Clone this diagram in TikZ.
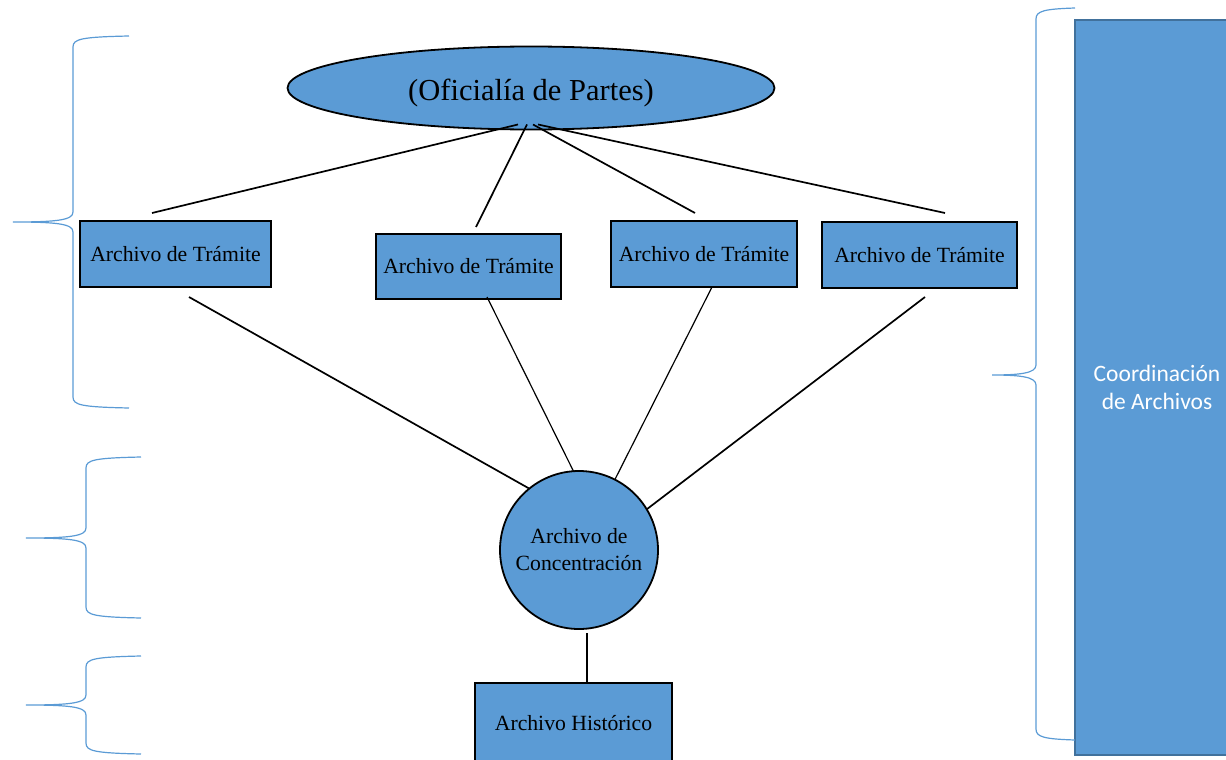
\documentclass[tikz,border=0pt]{standalone}
\usepackage{fontspec}
\setmainfont{Liberation Serif}
\newfontfamily\calibri{Carlito}
\usetikzlibrary{shapes.geometric}
\definecolor{azul}{HTML}{5B9BD5}
\definecolor{azulborde}{HTML}{41719C}

\begin{document}
\begin{tikzpicture}[x=1pt,y=-1pt,
  caja/.style={draw=black,line width=1.8pt,fill=azul,minimum height=65pt,
    inner sep=0pt,outer sep=0pt,font=\fontsize{21.7}{27}\selectfont},
  linea/.style={line width=1.7pt},
  fina/.style={line width=1.2pt},
  llave/.style={draw=azul,line width=1.2pt}]
  \useasboundingbox (0,0) rectangle (1226,760);
  \clip (0,0) rectangle (1226,760);

  % nodos
  \node[ellipse,draw,line width=1.8pt,fill=azul,minimum width=487pt,minimum height=83pt,
    inner sep=0pt,outer sep=0pt,font=\fontsize{30.5}{36}\selectfont] (op) at (531,88) {\raisebox{-5pt}[\height][\depth]{(Oficialía de Partes)}};
  \node[caja,minimum width=191pt,minimum height=66pt] (t1) at (175.5,254) {Archivo de Trámite};
  \node[caja,minimum width=185pt] (t2) at (468.5,266.5) {Archivo de Trámite};
  \node[caja,minimum width=186pt,minimum height=66pt] (t3) at (704,254) {Archivo de Trámite};
  \node[caja,minimum width=195pt,minimum height=66pt] (t4) at (919.5,255) {Archivo de Trámite};
  \node[caja,circle,minimum size=158pt,align=center] (conc) at (579,550) {Archivo de\\Concentración};
  \node[caja,minimum width=197pt,minimum height=81pt] (hist) at (573.5,723.5) {Archivo Histórico};
  \node[draw=azulborde,line width=1.5pt,fill=azul,minimum width=164pt,minimum height=735pt,
    text=white,align=center,font=\calibri\fontsize{23.5}{28}\selectfont] (coord) at (1157,387.5) {Coordinación\\de Archivos};

  % conectores superiores
  \draw[linea] ([xshift=-13pt,yshift=5pt]op.south) -- ([xshift=-23.5pt,yshift=8pt]t1.north);
  \draw[linea] ([xshift=-4pt,yshift=5pt]op.south) -- ([xshift=7.5pt,yshift=7pt]t2.north);
  \draw[linea] ([xshift=2pt,yshift=5pt]op.south) -- ([xshift=-9pt,yshift=8pt]t3.north);
  \draw[linea] ([xshift=7pt,yshift=5pt]op.south) -- ([xshift=25.5pt,yshift=9pt]t4.north);

  % conectores inferiores
  \draw[linea] ([xshift=13.5pt,yshift=-10pt]t1.south) -- (conc.129);
  \draw[fina] ([xshift=18.5pt,yshift=2pt]t2.south) -- (conc.94);
  \draw[fina] ([xshift=8pt]t3.south) -- (conc.63);
  \draw[linea] ([xshift=5.5pt,yshift=-9pt]t4.south) -- (conc.31);
  \draw[linea] ([xshift=8pt,yshift=-4pt]conc.south) -- ([xshift=13.5pt]hist.north);

  % llaves
  \foreach \xe/\yt/\xs/\xp/\ym/\yb in {129/36/73/13/222/408, 141/457/86/26/538/618,
      141/656/86/26/705/754, 1075/8/1036/992/375/740}
    \draw[llave] (\xe,\yt) .. controls (\xs+8,\yt+1) and (\xs,\yt+3) .. (\xs,\yt+11)
      -- (\xs,\ym-10) .. controls (\xs,\ym-2) and (\xs-15,\ym) .. (\xp,\ym)
      .. controls (\xs-15,\ym) and (\xs,\ym+2) .. (\xs,\ym+10)
      -- (\xs,\yb-11) .. controls (\xs,\yb-3) and (\xs+8,\yb-1) .. (\xe,\yb);
\end{tikzpicture}
\end{document}
